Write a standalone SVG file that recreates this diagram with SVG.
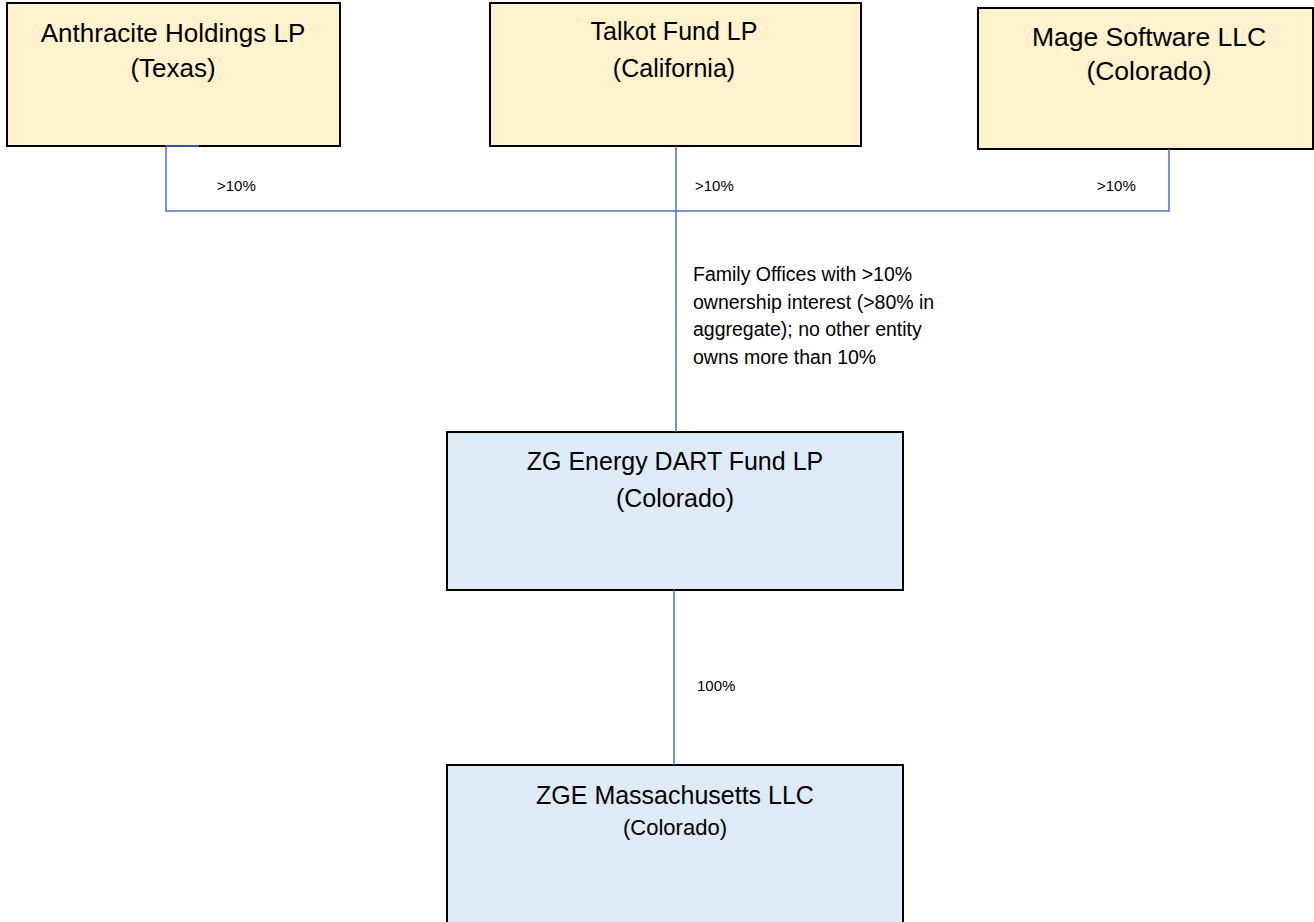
<svg xmlns="http://www.w3.org/2000/svg" width="1314" height="922" viewBox="0 0 1314 922">
<style>
.yellow{fill:#FFF2CC;stroke:#000;stroke-width:2}
.blue{fill:#DEEBF7;stroke:#000;stroke-width:2}
.t{font-family:"Liberation Sans",Arial,sans-serif;font-size:25px;fill:#000;text-anchor:middle}
.s{font-family:"Liberation Sans",Arial,sans-serif;font-size:15px;fill:#000}
.f{font-family:"Liberation Sans",Arial,sans-serif;font-size:19.5px;fill:#000}
.c{fill:none;stroke:#4472C4;stroke-width:1.5}
</style>
<rect width="1314" height="922" fill="#fff"/>
<g id="n-anthracite">
<rect class="yellow" x="7" y="3" width="333" height="143"/>
<text class="t" x="173" y="42" style="font-size:26px">Anthracite Holdings LP</text>
<text class="t" x="173" y="77" style="font-size:26px">(Texas)</text>
</g>
<g id="n-talkot">
<rect class="yellow" x="490" y="3" width="371" height="143"/>
<text class="t" x="674" y="40">Talkot Fund LP</text>
<text class="t" x="674" y="77">(California)</text>
</g>
<g id="n-mage">
<rect class="yellow" x="978" y="8" width="335" height="141"/>
<text class="t" x="1149" y="46" style="font-size:26.5px">Mage Software LLC</text>
<text class="t" x="1149" y="80" style="font-size:26.5px">(Colorado)</text>
</g>
<g id="n-zgfund">
<rect class="blue" x="447" y="432" width="456" height="158"/>
<text class="t" x="675" y="470">ZG Energy DART Fund LP</text>
<text class="t" x="675" y="507">(Colorado)</text>
</g>
<g id="n-zgemass">
<rect class="blue" x="447" y="765" width="456" height="170"/>
<text class="t" x="675" y="804">ZGE Massachusetts LLC</text>
<text class="t" x="675" y="835" style="font-size:22px">(Colorado)</text>
</g>
<g id="connectors">
<path class="c" d="M199,146 H166 V211 H1169 V149"/>
<path class="c" d="M676,146 V432"/>
<path class="c" d="M674,590 V765"/>
<text class="s" x="217" y="191">&gt;10%</text>
<text class="s" x="695" y="191">&gt;10%</text>
<text class="s" x="1097" y="191">&gt;10%</text>
<text class="s" x="697" y="691">100%</text>
<text class="f" x="693" y="281">Family Offices with &gt;10%</text>
<text class="f" x="693" y="308.5">ownership interest (&gt;80% in</text>
<text class="f" x="693" y="336">aggregate); no other entity</text>
<text class="f" x="693" y="364">owns more than 10%</text>
</g>
</svg>
